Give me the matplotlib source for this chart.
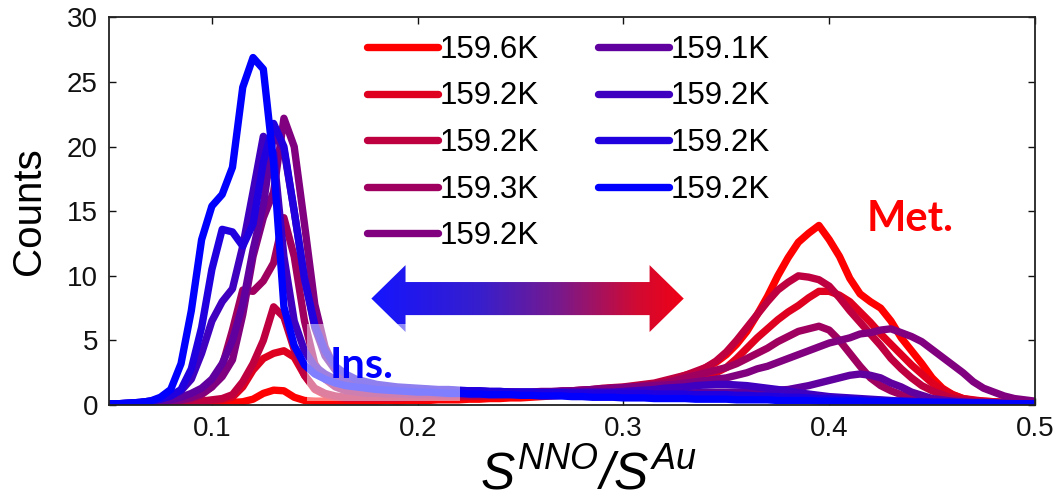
import numpy as np
import matplotlib
matplotlib.use("Agg")
import matplotlib.pyplot as plt
from matplotlib.patches import Polygon, Rectangle
from matplotlib.colors import LinearSegmentedColormap

plt.rcParams['font.family'] = ['Liberation Sans', 'DejaVu Sans']
plt.rcParams['mathtext.fontset'] = 'custom'
plt.rcParams['mathtext.it'] = 'Liberation Sans:italic'
plt.rcParams['mathtext.rm'] = 'Liberation Sans:italic'

# histogram bins of S_NNO / S_Au (0.05 ... 0.50, step 0.005)
ratio = np.linspace(0.05, 0.5, 91)

temps = ['159.6K', '159.2K', '159.2K', '159.3K', '159.2K',
         '159.1K', '159.2K', '159.2K', '159.2K']
colors = ['#ff0000', '#df0020', '#bf0040', '#9f0060', '#800080',
          '#60009f', '#4000bf', '#2000df', '#0000ff']

c1 = [0.1, 0.1, 0.1, 0.1, 0.1, 0.1, 0.1, 0.1, 0.1, 0.1,
      0.15, 0.15, 0.2, 0.25, 0.45, 0.9, 1.15, 1.1, 0.6, 0.35,
      0.3, 0.3, 0.3, 0.3, 0.3, 0.3, 0.3, 0.35, 0.3, 0.35,
      0.35, 0.35, 0.4, 0.4, 0.4, 0.45, 0.45, 0.5, 0.5, 0.55,
      0.55, 0.6, 0.65, 0.7, 0.75, 0.8, 0.85, 0.95, 1.0, 1.1,
      1.2, 1.35, 1.5, 1.6, 1.8, 2.0, 2.3, 2.5, 2.9, 3.3,
      3.9, 4.7, 5.7, 7.0, 8.4, 10.0, 11.4, 12.6, 13.3, 13.9,
      12.8, 11.5, 9.8, 8.6, 8.0, 7.5, 6.5, 5.2, 4.2, 3.2,
      2.1, 1.3, 0.8, 0.5, 0.35, 0.3, 0.25, 0.2, 0.2, 0.15,
      0.15]
c2 = [0.1, 0.1, 0.1, 0.1, 0.1, 0.1, 0.1, 0.15, 0.2, 0.25,
      0.3, 0.4, 0.6, 1.4, 2.7, 3.6, 4.0, 4.2, 3.7, 2.3,
      1.2, 0.8, 0.6, 0.5, 0.5, 0.5, 0.5, 0.5, 0.5, 0.55,
      0.55, 0.55, 0.6, 0.6, 0.6, 0.65, 0.65, 0.7, 0.7, 0.75,
      0.75, 0.8, 0.8, 0.85, 0.9, 0.95, 1.0, 1.0, 1.1, 1.15,
      1.2, 1.3, 1.4, 1.5, 1.6, 1.7, 1.9, 2.1, 2.3, 2.5,
      2.9, 3.6, 4.4, 5.2, 5.9, 6.6, 7.2, 7.7, 8.3, 8.8,
      8.8, 8.5, 8.0, 7.2, 6.4, 5.5, 4.7, 3.9, 3.1, 2.4,
      1.7, 1.2, 0.8, 0.5, 0.4, 0.3, 0.25, 0.2, 0.2, 0.15,
      0.15]
c3 = [0.1, 0.1, 0.1, 0.1, 0.1, 0.1, 0.1, 0.15, 0.2, 0.3,
      0.4, 0.5, 0.8, 1.8, 3.2, 5.0, 7.6, 6.8, 4.3, 2.3,
      1.3, 0.9, 0.7, 0.6, 0.6, 0.6, 0.6, 0.6, 0.6, 0.6,
      0.6, 0.65, 0.65, 0.65, 0.7, 0.7, 0.7, 0.75, 0.8, 0.8,
      0.85, 0.9, 0.95, 1.0, 1.05, 1.1, 1.15, 1.2, 1.3, 1.35,
      1.4, 1.5, 1.6, 1.7, 1.9, 2.1, 2.3, 2.6, 2.9, 3.4,
      4.1, 5.0, 6.0, 7.0, 8.0, 8.9, 9.5, 10.0, 9.9, 9.7,
      9.2, 8.3, 7.3, 6.4, 5.5, 4.6, 3.6, 2.8, 2.1, 1.5,
      1.1, 0.8, 0.5, 0.4, 0.3, 0.25, 0.2, 0.2, 0.15, 0.15,
      0.1]
c4 = [0.1, 0.1, 0.1, 0.1, 0.15, 0.2, 0.25, 0.35, 0.5, 0.8,
      1.4, 3.0, 5.8, 8.9, 8.8, 9.6, 11.0, 14.5, 11.5, 6.5,
      3.2, 2.0, 1.4, 1.1, 1.0, 0.9, 0.9, 0.85, 0.85, 0.8,
      0.8, 0.8, 0.8, 0.8, 0.8, 0.8, 0.8, 0.85, 0.85, 0.9,
      0.9, 0.95, 1.0, 1.0, 1.05, 1.1, 1.15, 1.2, 1.25, 1.3,
      1.35, 1.4, 1.5, 1.6, 1.7, 1.9, 2.1, 2.3, 2.5, 2.7,
      2.9, 3.2, 3.6, 4.0, 4.4, 4.9, 5.3, 5.7, 5.9, 6.1,
      5.8, 5.0, 4.0, 3.0, 2.1, 1.5, 1.1, 0.8, 0.6, 0.45,
      0.35, 0.3, 0.25, 0.2, 0.2, 0.15, 0.15, 0.15, 0.1, 0.1,
      0.1]
c5 = [0.1, 0.1, 0.1, 0.15, 0.2, 0.25, 0.3, 0.4, 0.6, 0.9,
      1.4, 2.2, 3.5, 7.0, 11.5, 14.5, 16.5, 22.2, 20.0, 14.0,
      7.8, 4.5, 2.8, 2.1, 1.8, 1.6, 1.5, 1.4, 1.3, 1.25,
      1.2, 1.15, 1.1, 1.1, 1.05, 1.05, 1.0, 1.0, 1.0, 1.0,
      1.0, 1.0, 1.05, 1.05, 1.1, 1.1, 1.15, 1.2, 1.25, 1.3,
      1.35, 1.4, 1.45, 1.5, 1.55, 1.6, 1.7, 1.8, 1.9, 2.0,
      2.1, 2.3, 2.5, 2.8, 3.0, 3.3, 3.6, 3.9, 4.2, 4.5,
      4.8, 5.0, 5.2, 5.5, 5.6, 5.8, 5.9, 5.6, 5.3, 4.9,
      4.3, 3.7, 3.1, 2.5, 1.8, 1.3, 1.0, 0.7, 0.5, 0.4,
      0.3]
c6 = [0.1, 0.1, 0.1, 0.15, 0.2, 0.3, 0.4, 0.6, 0.9, 1.3,
      2.0, 3.2, 5.0, 7.8, 12.0, 15.5, 21.0, 19.8, 15.0, 9.8,
      6.0, 3.8, 2.7, 2.1, 1.8, 1.6, 1.5, 1.4, 1.3, 1.25,
      1.2, 1.15, 1.1, 1.1, 1.05, 1.05, 1.0, 1.0, 1.0, 1.0,
      0.95, 0.95, 0.95, 0.9, 0.9, 0.9, 0.9, 0.9, 0.9, 0.9,
      0.9, 0.9, 0.9, 0.9, 0.9, 0.95, 0.95, 0.95, 1.0, 1.0,
      1.0, 1.0, 1.0, 1.05, 1.1, 1.15, 1.2, 1.35, 1.5, 1.7,
      1.9, 2.1, 2.3, 2.4, 2.3, 2.1, 1.7, 1.4, 1.0, 0.75,
      0.5, 0.4, 0.3, 0.25, 0.2, 0.2, 0.15, 0.15, 0.1, 0.1,
      0.1]
c7 = [0.1, 0.1, 0.15, 0.2, 0.3, 0.45, 0.7, 1.1, 2.0, 4.0,
      6.5, 8.0, 9.0, 12.3, 16.5, 20.8, 19.5, 11.5, 6.5, 4.2,
      3.0, 2.4, 2.0, 1.8, 1.6, 1.5, 1.4, 1.35, 1.3, 1.25,
      1.2, 1.2, 1.15, 1.15, 1.1, 1.1, 1.1, 1.05, 1.05, 1.0,
      1.0, 1.0, 1.0, 1.0, 1.0, 1.0, 1.0, 1.0, 1.0, 1.0,
      1.05, 1.1, 1.15, 1.2, 1.3, 1.35, 1.4, 1.5, 1.55, 1.6,
      1.6, 1.55, 1.5, 1.4, 1.3, 1.2, 1.1, 0.95, 0.85, 0.75,
      0.65, 0.6, 0.55, 0.5, 0.45, 0.4, 0.35, 0.3, 0.3, 0.25,
      0.25, 0.2, 0.2, 0.2, 0.15, 0.15, 0.15, 0.1, 0.1, 0.1,
      0.1]
c8 = [0.1, 0.1, 0.15, 0.2, 0.3, 0.45, 0.7, 1.2, 2.8, 6.0,
      10.5, 13.6, 13.4, 12.3, 14.0, 18.8, 21.8, 20.0, 15.0, 9.8,
      6.2, 4.2, 3.0, 2.4, 2.0, 1.8, 1.6, 1.5, 1.4, 1.35,
      1.3, 1.25, 1.2, 1.2, 1.15, 1.1, 1.1, 1.05, 1.05, 1.0,
      1.0, 1.0, 0.95, 0.95, 0.95, 0.9, 0.9, 0.9, 0.9, 0.9,
      0.9, 0.9, 0.9, 0.85, 0.85, 0.85, 0.85, 0.8, 0.8, 0.8,
      0.8, 0.75, 0.75, 0.7, 0.7, 0.65, 0.6, 0.6, 0.55, 0.5,
      0.5, 0.45, 0.45, 0.4, 0.35, 0.35, 0.3, 0.3, 0.25, 0.25,
      0.2, 0.2, 0.2, 0.15, 0.15, 0.15, 0.1, 0.1, 0.1, 0.1,
      0.1]
c9 = [0.1, 0.1, 0.15, 0.2, 0.3, 0.6, 1.2, 3.2, 7.3, 12.8,
      15.4, 16.3, 18.4, 24.6, 26.9, 26.0, 18.7, 7.6, 4.6, 3.1,
      2.4, 2.0, 1.7, 1.5, 1.4, 1.3, 1.2, 1.15, 1.1, 1.05,
      1.0, 1.0, 0.95, 0.9, 0.9, 0.85, 0.85, 0.8, 0.8, 0.8,
      0.75, 0.75, 0.7, 0.7, 0.7, 0.65, 0.65, 0.6, 0.6, 0.6,
      0.55, 0.55, 0.55, 0.5, 0.5, 0.5, 0.5, 0.45, 0.45, 0.45,
      0.45, 0.4, 0.4, 0.4, 0.4, 0.35, 0.35, 0.35, 0.35, 0.3,
      0.3, 0.3, 0.3, 0.3, 0.25, 0.25, 0.25, 0.25, 0.2, 0.2,
      0.2, 0.2, 0.2, 0.15, 0.15, 0.15, 0.15, 0.1, 0.1, 0.1,
      0.1]

curves = [c1, c2, c3, c4, c5, c6, c7, c8, c9]

fig = plt.figure(figsize=(10.56, 5.01), dpi=100)
ax = fig.add_axes([109 / 1056, 96 / 501, 926 / 1056, 387.5 / 501])

for counts, col, lab in zip(curves, colors, temps):
    ax.plot(ratio, counts, color=col, lw=5.3, label=lab,
            solid_joinstyle='round', solid_capstyle='round')

# gradient double arrow (Ins. <-> Met.)
xl, xr, hl = 0.1775, 0.3293, 0.0166
yc, sh, hh = 8.24, 1.28, 2.59
verts = [(xl, yc), (xl + hl, yc + hh), (xl + hl, yc + sh), (xr - hl, yc + sh),
         (xr - hl, yc + hh), (xr, yc), (xr - hl, yc - hh), (xr - hl, yc - sh),
         (xl + hl, yc - sh), (xl + hl, yc - hh)]
arrow = Polygon(verts, closed=True, facecolor='none', edgecolor='none')
ax.add_patch(arrow)
cmap = LinearSegmentedColormap.from_list(
    'arr', [(0, (0.08, 0.08, 1.0)), (0.35, (0.22, 0.12, 0.8)),
            (0.6, (0.47, 0.1, 0.55)), (0.85, (0.82, 0.04, 0.2)),
            (1, (0.94, 0.0, 0.08))])
grad = np.linspace(0, 1, 256).reshape(1, -1)
im = ax.imshow(grad, extent=[xl, xr, yc - hh, yc + hh], aspect='auto',
               cmap=cmap, origin='lower', zorder=3, interpolation='bilinear')
im.set_clip_path(arrow)

# translucent box behind the "Ins." label
ax.add_patch(Rectangle((0.1463, 0.3), 0.0745, 5.95, facecolor='white',
                       edgecolor='none', alpha=0.5, zorder=4))
ax.text(0.157, 2.09, 'Ins.', color='#0000ff', fontsize=30, fontweight='bold',
        family=['Lato', 'DejaVu Sans'], va='baseline', zorder=5)
ax.text(0.4183, 13.48, 'Met.', color='#ff0000', fontsize=30, fontweight='bold',
        family=['Lato', 'DejaVu Sans'], va='baseline', zorder=5)

ax.set_xlim(0.05, 0.5)
ax.set_ylim(0, 30)
ax.set_xticks([0.1, 0.2, 0.3, 0.4, 0.5])
ax.set_xticklabels(['0.1', '0.2', '0.3', '0.4', '0.5'])
ax.set_yticks([0, 5, 10, 15, 20, 25, 30])
ax.tick_params(direction='in', top=True, right=True, length=5, width=1.0,
               labelsize=20, pad=8, colors='#111111')
for sp in ax.spines.values():
    sp.set_linewidth(1.3)
    sp.set_color('#222222')

ax.set_ylabel('Counts', fontsize=29)
ax.yaxis.set_label_coords(-0.066, 0.5)
ax.set_xlabel('$S^{NNO}/S^{Au}$', fontsize=37, va='baseline')
ax.xaxis.set_label_coords(0.518, -0.218)

ax.legend(loc='upper left', bbox_to_anchor=(0.2786, 0.955), ncol=2,
          frameon=False, fontsize=22.5, handlelength=2.27, handletextpad=0.05,
          labelspacing=0.53, columnspacing=1.9, borderpad=0, borderaxespad=0)

fig.savefig('out.png', dpi=100)
